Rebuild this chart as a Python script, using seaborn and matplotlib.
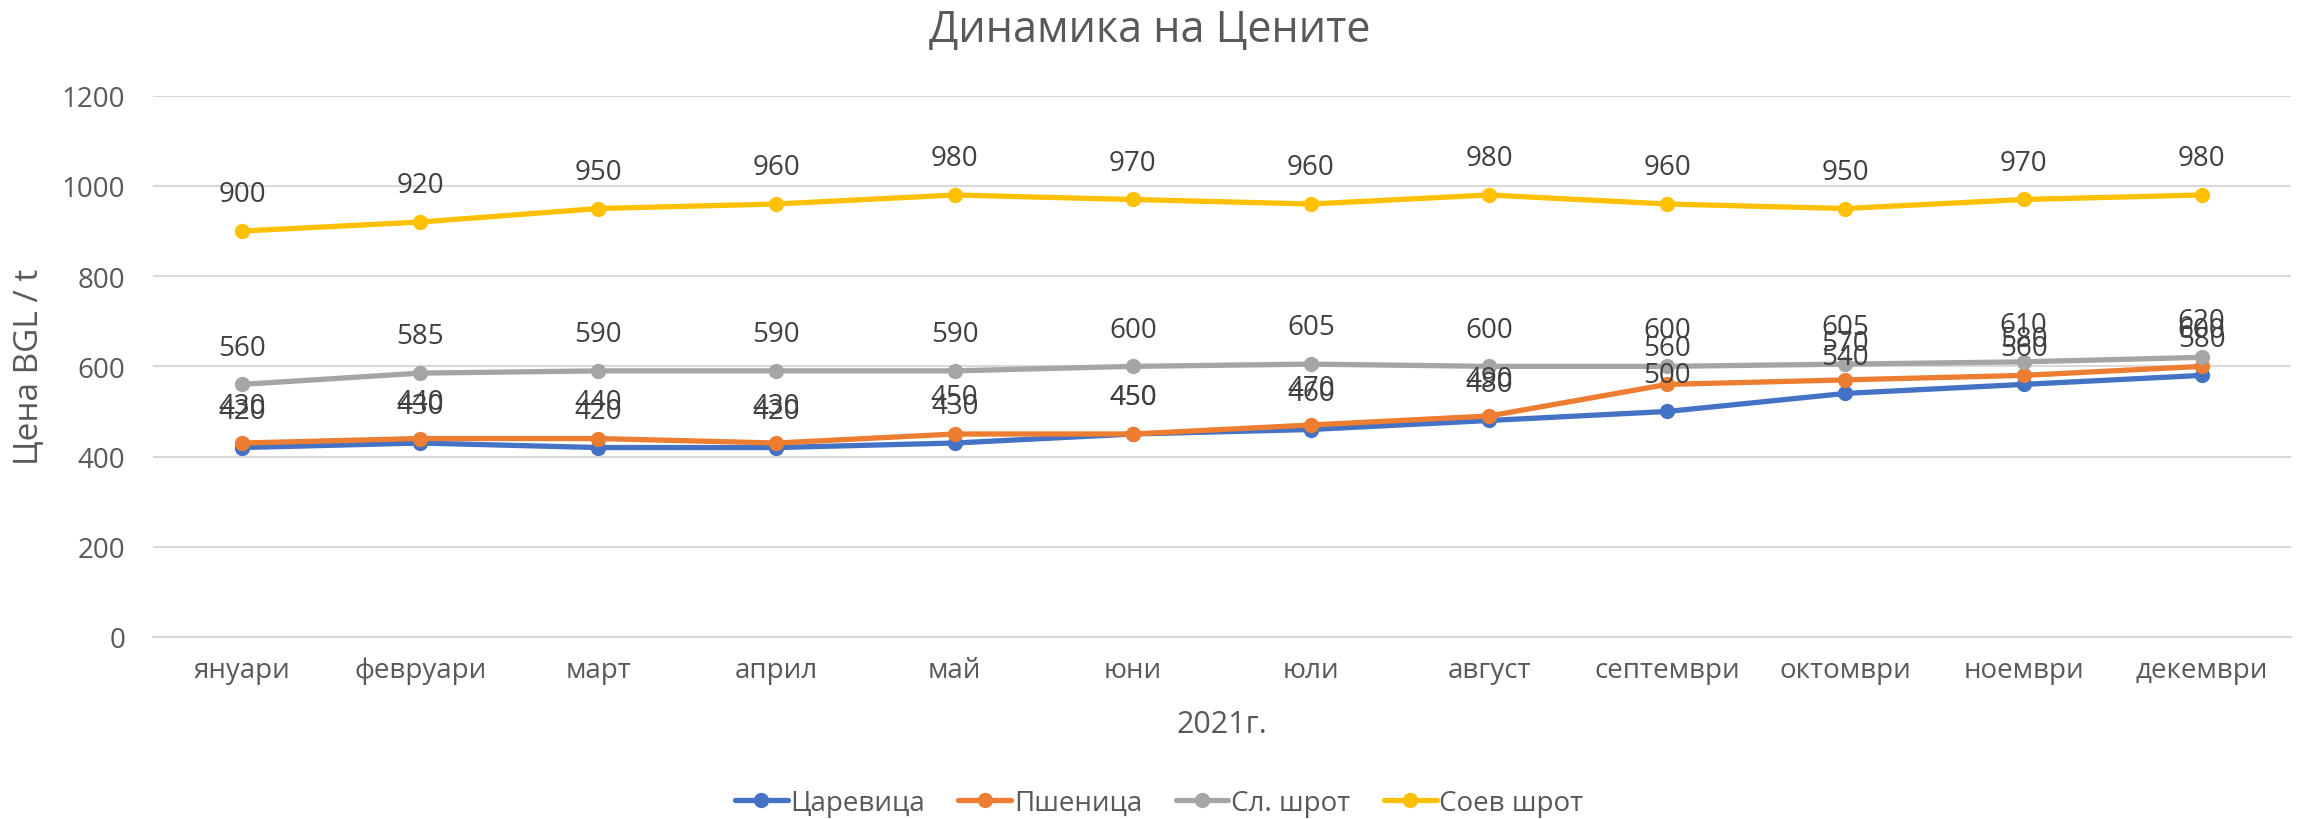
import pandas as pd
import seaborn as sns
import matplotlib.pyplot as plt

# data
months = ["януари", "февруари", "март", "април", "май", "юни",
          "юли", "август", "септември", "октомври", "ноември", "декември"]
tsarevitsa = [420, 430, 420, 420, 430, 450, 460, 480, 500, 540, 560, 580]
pshenitsa = [430, 440, 440, 430, 450, 450, 470, 490, 560, 570, 580, 600]
sl_shrot = [560, 585, 590, 590, 590, 600, 605, 600, 600, 605, 610, 620]
soev_shrot = [900, 920, 950, 960, 980, 970, 960, 980, 960, 950, 970, 980]

series = {"Царевица": tsarevitsa, "Пшеница": pshenitsa,
          "Сл. шрот": sl_shrot, "Соев шрот": soev_shrot}
colors = ["#4472C4", "#ED7D31", "#A5A5A5", "#FFC000"]

rows = []
for name, vals in series.items():
    for i, v in enumerate(vals):
        rows.append({"month": i, "price": v, "series": name})
df = pd.DataFrame(rows)

sns.set_style("white")
plt.rcParams["font.family"] = ["Open Sans", "DejaVu Sans"]

fig = plt.figure(figsize=(23, 8.2), dpi=100)
ax = fig.add_axes([0.0665, 0.222, 0.9295, 0.66])

sns.lineplot(data=df, x="month", y="price", hue="series", palette=colors,
             marker="o", markersize=11, markeredgewidth=0, linewidth=3.8,
             ax=ax, legend=True)

# data labels above points
for name, vals in series.items():
    for i, v in enumerate(vals):
        ax.annotate(str(v), (i, v), xytext=(0, 26.5), textcoords="offset points",
                    ha="center", va="center", fontsize=20, color="#404040")

ax.set_xlim(-0.5, 11.5)
ax.set_ylim(0, 1200)
ax.set_yticks(range(0, 1201, 200))
ax.set_xticks(range(12))
ax.set_xticklabels(months)
ax.tick_params(axis="both", labelsize=20, colors="#595959", length=0)
ax.tick_params(axis="x", pad=14)
ax.tick_params(axis="y", pad=20)
ax.yaxis.grid(True, color="#D9D9D9", linewidth=1.5)
for s in ["top", "right", "left"]:
    ax.spines[s].set_visible(False)
ax.spines["bottom"].set_color("#D9D9D9")
ax.spines["bottom"].set_linewidth(1.5)

ax.set_xlabel("2021г.", fontsize=22, color="#595959")
ax.xaxis.set_label_coords(0.5, -0.133)
ax.set_ylabel("Цена BGL / t", fontsize=24, color="#595959")
ax.yaxis.set_label_coords(-0.05, 0.5)
fig.text(0.5, 0.962, "Динамика на Цените", fontsize=31, color="#595959",
         ha="center", va="center")

handles, labels = ax.get_legend_handles_labels()
ax.legend_.remove()
fig.legend(handles, labels, loc="center", ncol=4, frameon=False,
           fontsize=20, bbox_to_anchor=(0.504, 0.02), handlelength=1.9,
           handletextpad=0.1, columnspacing=1.2, labelcolor="#595959")

fig.savefig("out.png", dpi=100)
